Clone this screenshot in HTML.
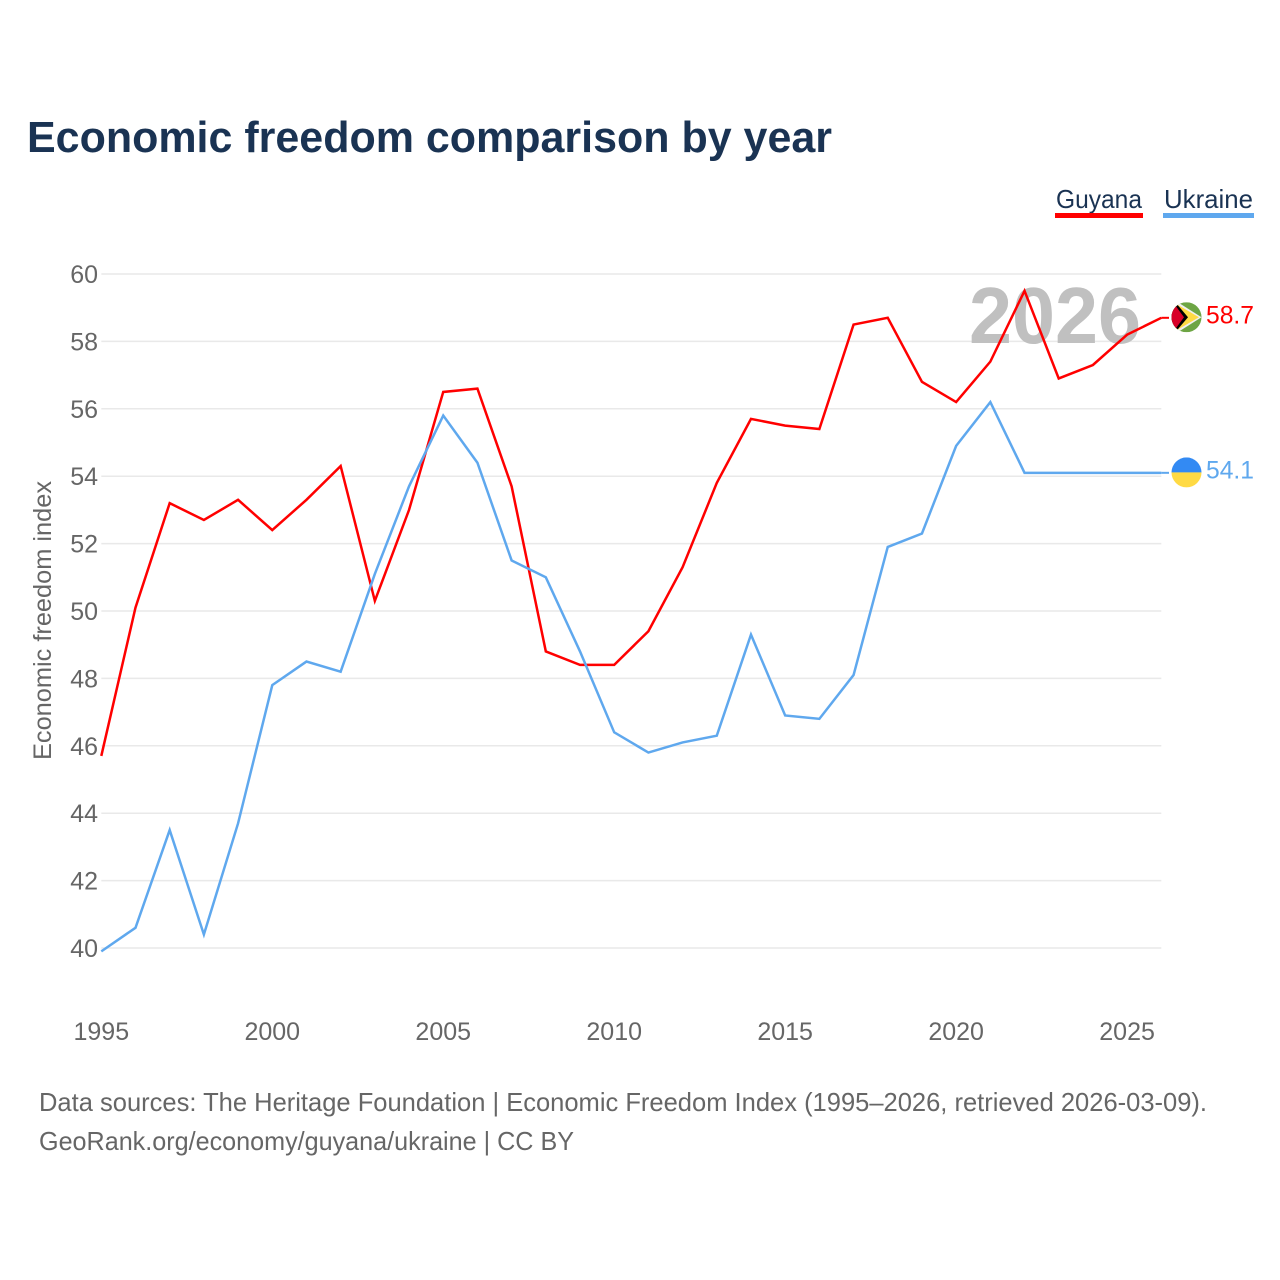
<!DOCTYPE html>
<html lang="en">
<head>
<meta charset="utf-8">
<title>Economic freedom comparison by year</title>
<style>
html,body{margin:0;padding:0;background:#fff;width:1280px;height:1280px;overflow:hidden}
svg{display:block}
text{font-family:"Liberation Sans",sans-serif}
.tick{font-size:25px;fill:#666}
</style>
</head>
<body>
<svg id="chart" xmlns="http://www.w3.org/2000/svg" width="1280" height="1280" viewBox="0 0 1280 1280">
  <defs>
    <clipPath id="clip-guyana"><circle id="clip-guyana-circle" r="15"></circle></clipPath>
    <clipPath id="clip-ukraine"><circle id="clip-ukraine-circle" r="15"></circle></clipPath>
  </defs>
  <text x="27" y="152" font-size="44" font-weight="700" fill="#1a3353" textLength="805" lengthAdjust="spacingAndGlyphs">Economic freedom comparison by year</text>

  <g>
    <text x="1056" y="208" font-size="26" fill="#1a3353" textLength="86" lengthAdjust="spacingAndGlyphs">Guyana</text>
    <rect x="1055" y="213" width="88" height="5" fill="#ff0000"></rect>
  </g>
  <g>
    <text x="1164" y="208" font-size="26" fill="#1a3353" textLength="89" lengthAdjust="spacingAndGlyphs">Ukraine</text>
    <rect x="1163" y="213" width="91" height="5" fill="#5fa8ee"></rect>
  </g>

  <g id="grid"></g>
  <g id="yticks"></g>
  <g id="xticks"></g>

  <text transform="translate(51,620.5) rotate(-90)" text-anchor="middle" font-size="25" fill="#666" textLength="279" lengthAdjust="spacingAndGlyphs">Economic freedom index</text>

  <text x="969" y="343" font-size="80" font-weight="700" fill="#c0c0c0" textLength="172" lengthAdjust="spacingAndGlyphs">2026</text>

  <g id="series"></g>
  <g id="ends"></g>

  <text x="39" y="1111" font-size="26" fill="#666" textLength="1168" lengthAdjust="spacingAndGlyphs">Data sources: The Heritage Foundation | Economic Freedom Index (1995–2026, retrieved 2026-03-09).</text>
  <text x="39" y="1150" font-size="26" fill="#666" textLength="535" lengthAdjust="spacingAndGlyphs">GeoRank.org/economy/guyana/ukraine | CC BY</text>
</svg>
<script>
const years = [1995,1996,1997,1998,1999,2000,2001,2002,2003,2004,2005,2006,2007,2008,2009,2010,2011,2012,2013,2014,2015,2016,2017,2018,2019,2020,2021,2022,2023,2024,2025,2026];
const guyanaValues = [45.7,50.1,53.2,52.7,53.3,52.4,53.3,54.3,50.3,53.0,56.5,56.6,53.7,48.8,48.4,48.4,49.4,51.3,53.8,55.7,55.5,55.4,58.5,58.7,56.8,56.2,57.4,59.5,56.9,57.3,58.2,58.7];
const ukraineValues = [39.9,40.6,43.5,40.4,43.7,47.8,48.5,48.2,51.1,53.7,55.8,54.4,51.5,51.0,48.8,46.4,45.8,46.1,46.3,49.3,46.9,46.8,48.1,51.9,52.3,54.9,56.2,54.1,54.1,54.1,54.1,54.1];
const yTickLabels = [40,42,44,46,48,50,52,54,56,58,60];
const xTickLabels = [1995,2000,2005,2010,2015,2020,2025];

const NS = 'http://www.w3.org/2000/svg';
function xScale(year){ return 101.3 + (year - 1995) * (1161.3 - 101.3) / 31; }
function yScale(v){ return 948 - (v - 40) * (948 - 274) / 20; }
function make(tag, parent){
  const el = document.createElementNS(NS, tag);
  parent.appendChild(el);
  return el;
}
function set(el, props){
  for (const k in props) el.setAttribute(k, props[k]);
  return el;
}

const gridGroup = document.getElementById('grid');
const yGroup = document.getElementById('yticks');
const xGroup = document.getElementById('xticks');
const seriesGroup = document.getElementById('series');
const endsGroup = document.getElementById('ends');

yTickLabels.forEach(function(t){
  const line = set(make('line', gridGroup), {x1:101.3, x2:1161.3, y1:yScale(t), y2:yScale(t), stroke:'#e9e9e9', 'stroke-width':1.5});
  
  
  const label = set(make('text', yGroup), {x:98, y:yScale(t) + 9, 'text-anchor':'end', class:'tick'});
  label.textContent = t;
  
  
});

xTickLabels.forEach(function(t){
  const label = set(make('text', xGroup), {x:xScale(t), y:1040, 'text-anchor':'middle', class:'tick'});
  label.textContent = t;
  
  
});

function drawSeries(key, values, color){
  const pts = values.map(function(v, i){ return xScale(years[i]).toFixed(2) + ',' + yScale(v).toFixed(2); });
  const line = set(make('polyline', seriesGroup), {points:pts.join(' '), fill:'none', stroke:color, 'stroke-width':2.5, 'stroke-linejoin':'miter'});
  
  
  const lastY = yScale(values[values.length - 1]);
  const lead = set(make('line', seriesGroup), {x1:xScale(2026), x2:1169, y1:lastY, y2:lastY, stroke:color, 'stroke-width':2});
  
  
  return lastY;
}

const guyanaY = drawSeries('guyana', guyanaValues, '#ff0000');
const ukraineY = drawSeries('ukraine', ukraineValues, '#5fa8ee');

function endLabel(key, value, y, color){
  const label = set(make('text', endsGroup), {x:1206, y:y + 5.5, 'font-size':25, fill:color, textLength:48, lengthAdjust:'spacingAndGlyphs'});
  label.textContent = value.toFixed(1);
  
  
}

// Guyana flag marker
const cx = 1186.5;
const gy = guyanaY - 0.6;
set(document.getElementById('clip-guyana-circle'), {cx:cx, cy:gy});
const gFlag = set(make('g', endsGroup), {'clip-path':'url(#clip-guyana)'});


set(make('rect', gFlag), {x:cx - 15, y:gy - 15, width:30, height:30, fill:'#6da544'});
set(make('polygon', gFlag), {points:[[cx-15,gy-19],[cx+15,gy],[cx-15,gy+19]].map(String).join(' '), fill:'#f0f0f0'});
set(make('polygon', gFlag), {points:[[cx-15,gy-16],[cx+12.5,gy],[cx-15,gy+16]].map(String).join(' '), fill:'#ffda44'});
set(make('polygon', gFlag), {points:[[cx-15,gy-19.5],[cx+1.5,gy],[cx-15,gy+19.5]].map(String).join(' '), fill:'#000000'});
set(make('polygon', gFlag), {points:[[cx-15,gy-17],[cx-2.5,gy],[cx-15,gy+17]].map(String).join(' '), fill:'#d80027'});
endLabel('guyana', guyanaValues[guyanaValues.length - 1], guyanaY, '#ff0000');

// Ukraine flag marker
const uy = ukraineY - 0.4;
set(document.getElementById('clip-ukraine-circle'), {cx:cx, cy:uy});
const uFlag = set(make('g', endsGroup), {'clip-path':'url(#clip-ukraine)'});


set(make('rect', uFlag), {x:cx - 15, y:uy - 15, width:30, height:15, fill:'#338af3'});
set(make('rect', uFlag), {x:cx - 15, y:uy, width:30, height:15, fill:'#ffda44'});
endLabel('ukraine', ukraineValues[ukraineValues.length - 1], ukraineY, '#5fa8ee');
</script>
</body>
</html>
